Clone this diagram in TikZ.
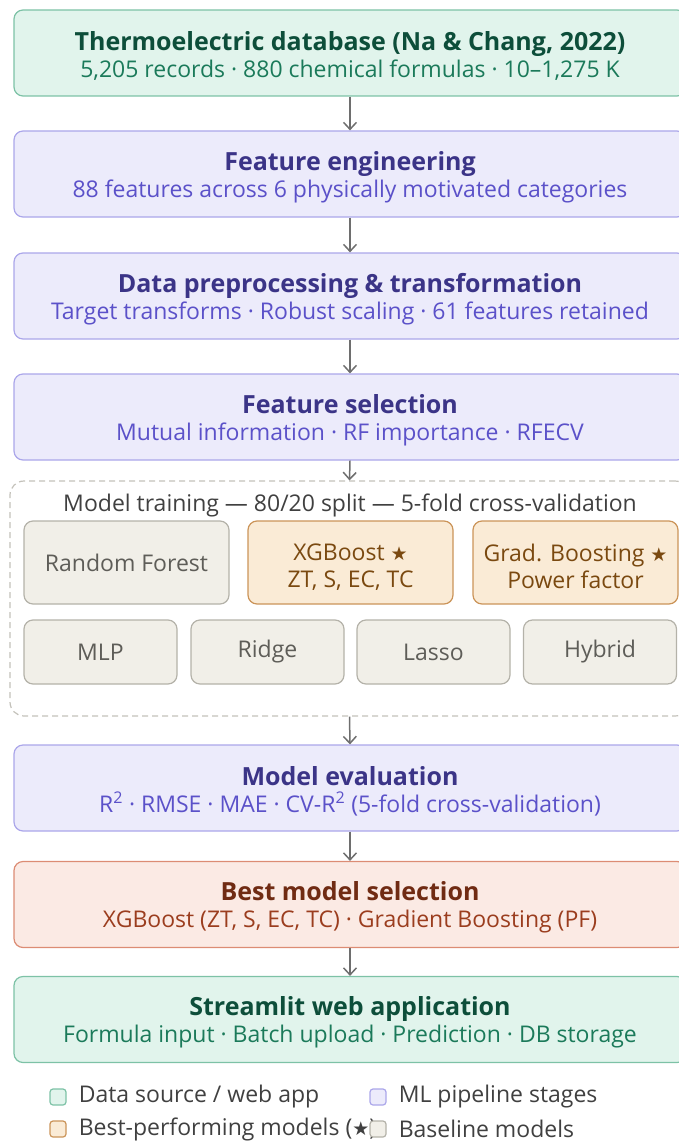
\documentclass[tikz,border=0pt]{standalone}
\usepackage{fontspec}
\setmainfont{Open Sans}
\newfontfamily\starFont{DejaVu Sans}
\usetikzlibrary{arrows.meta}
\definecolor{greenFill}{HTML}{E1F4EC}
\definecolor{greenLine}{HTML}{7DC2A6}
\definecolor{greenTitle}{HTML}{0D4E3A}
\definecolor{greenText}{HTML}{1B7A5A}
\definecolor{purpleFill}{HTML}{ECEBFB}
\definecolor{purpleLine}{HTML}{ABA6EA}
\definecolor{purpleTitle}{HTML}{3B3487}
\definecolor{purpleText}{HTML}{5B51C9}
\definecolor{coralFill}{HTML}{FBEAE4}
\definecolor{coralLine}{HTML}{DC8C74}
\definecolor{coralTitle}{HTML}{702B13}
\definecolor{coralText}{HTML}{9B3D1E}
\definecolor{bestFill}{HTML}{FAEBD6}
\definecolor{bestLine}{HTML}{CB9459}
\definecolor{bestText}{HTML}{7A4910}
\definecolor{baseFill}{HTML}{F1EFE8}
\definecolor{baseLine}{HTML}{B4B2A9}
\definecolor{baseText}{HTML}{5E5D58}
\definecolor{arrowGray}{HTML}{6E6E6E}
\definecolor{legendGray}{HTML}{404040}
\newcommand{\bestStar}{{\starFont\fontsize{19}{22}\selectfont ★}}
\newcommand{\titleSize}{\fontsize{25}{27}\selectfont}
\newcommand{\subSize}{\fontsize{23}{27}\selectfont}
\newcommand{\topStrut}{\rule{0pt}{25pt}}
\newcommand{\stageBox}[6]{%%
  \node[#3] (#1) at (\xmid,#2) {{\topStrut\titleSize\bfseries\color{#4}#5}\\{#6}};
}
\newcommand{\legendItem}[5]{%%
  \node[#4] (#1) at (#2,#3) {};
  \node[legendText] (#1Text) at ([xshift=12pt]#1.east) {#5};
}

\begin{document}
\begin{tikzpicture}[%%
  x=1pt,y=-1pt,%%
  stageStyle/.style={draw,rounded corners=9pt,line width=1.2pt,minimum width=672pt,minimum height=86pt,align=center,inner sep=0pt,font=\subSize},%%
  greenStyle/.style={stageStyle,fill=greenFill,draw=greenLine,text=greenText},%%
  purpleStyle/.style={stageStyle,fill=purpleFill,draw=purpleLine,text=purpleText},%%
  coralStyle/.style={stageStyle,fill=coralFill,draw=coralLine,text=coralText},%%
  modelStyle/.style={draw,rounded corners=9pt,line width=1.2pt,align=center,inner sep=0pt,font=\subSize},%%
  bestStyle/.style={modelStyle,fill=bestFill,draw=bestLine,text=bestText,minimum width=205pt,minimum height=83pt},%%
  baseStyle/.style={modelStyle,fill=baseFill,draw=baseLine,text=baseText},%%
  wideStyle/.style={baseStyle,minimum width=205pt,minimum height=83pt},%%
  smallStyle/.style={baseStyle,minimum width=153pt,minimum height=64pt},%%
  trainStyle/.style={draw=baseLine!80,dashed,dash pattern=on 6pt off 4pt,rounded corners=14pt,line width=1.2pt,minimum width=679pt,minimum height=235pt},%%
  arrowStyle/.style={-{Straight Barb[length=7pt,width=13pt]},line width=1.5pt,arrowGray},%%
  swatchStyle/.style={rounded corners=3pt,line width=1.2pt,minimum size=16pt,inner sep=0pt},%%
  legendText/.style={anchor=west,inner sep=0pt,text=legendGray,font=\subSize}
]
%%
\useasboundingbox (0,0) rectangle (679,1142);
\pgfmathsetmacro{\xmid}{350}
%%
%% Pipeline stages.
\stageBox{data}{53}{greenStyle}{greenTitle}{Thermoelectric database (Na \& Chang, 2022)}{5,205 records · 880 chemical formulas · 10--1,275 K}
\stageBox{engineering}{174}{purpleStyle}{purpleTitle}{Feature engineering}{88 features across 6 physically motivated categories}
\stageBox{preprocessing}{296}{purpleStyle}{purpleTitle}{Data preprocessing \& transformation}{Target transforms · Robust scaling · 61 features retained}
\stageBox{selection}{417}{purpleStyle}{purpleTitle}{Feature selection}{Mutual information · RF importance · RFECV}
%%
%% Model training group.
\node[trainStyle] (training) at (349.5,598.5) {};
\node[text=legendGray,font=\subSize] (trainLabel) at (\xmid,505) {Model training --- 80/20 split --- 5-fold cross-validation};
\node[wideStyle] (forest) at (126.5,562.5) {Random Forest};
\node[bestStyle] (xgboost) at (350.5,562.5) {\topStrut XGBoost \bestStar\\ZT, S, EC, TC};
\node[bestStyle] (gradboost) at (575.5,562.5) {\topStrut Grad. Boosting \bestStar\\Power factor};
\node[smallStyle] (mlp) at (100.5,652) {MLP};
\node[smallStyle] (ridge) at (267.5,652) {Ridge};
\node[smallStyle] (lasso) at (433.5,652) {Lasso};
\node[smallStyle] (hybrid) at (600,652) {Hybrid};
%%
\stageBox{evaluation}{788}{purpleStyle}{purpleTitle}{Model evaluation}{R\textsuperscript{2} · RMSE · MAE · CV-R\textsuperscript{2} (5-fold cross-validation)}
\stageBox{best}{904.5}{coralStyle}{coralTitle}{Best model selection}{XGBoost (ZT, S, EC, TC) · Gradient Boosting (PF)}
\stageBox{webapp}{1019.5}{greenStyle}{greenTitle}{Streamlit web application}{Formula input · Batch upload · Prediction · DB storage}
%%
%% Connectors.
\draw[arrowStyle] (data.south) -- (engineering.north);
\draw[arrowStyle] (engineering.south) -- (preprocessing.north);
\draw[arrowStyle] (preprocessing.south) -- (selection.north);
\draw[arrowStyle] (selection.south) -- (training.north);
\draw[arrowStyle] (training.south) -- (evaluation.north);
\draw[arrowStyle] (evaluation.south) -- (best.north);
\draw[arrowStyle] (best.south) -- (webapp.north);
%%
%% Legend.
\legendItem{keyData}{58}{1097}{swatchStyle,fill=greenFill,draw=greenLine}{Data source / web app}
\legendItem{keyStage}{378}{1097}{swatchStyle,fill=purpleFill,draw=purpleLine}{ML pipeline stages}
\legendItem{keyBest}{58}{1129}{swatchStyle,fill=bestFill,draw=bestLine}{Best-performing models (\bestStar)}
\legendItem{keyBase}{378}{1129}{swatchStyle,fill=baseFill,draw=baseLine}{Baseline models}
\end{tikzpicture}
\end{document}
